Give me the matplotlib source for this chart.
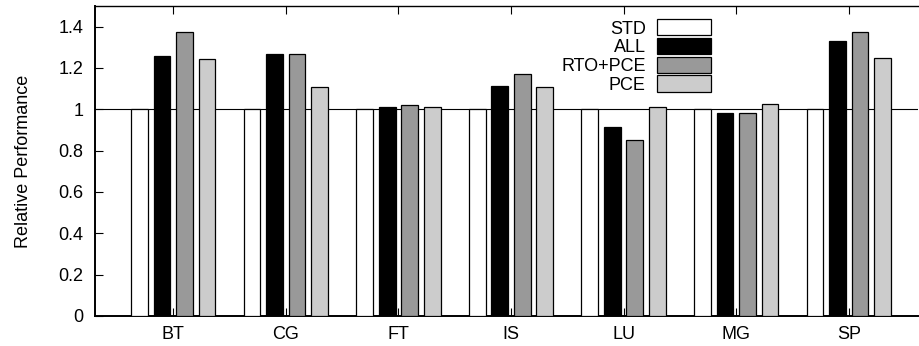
import matplotlib
matplotlib.use("Agg")
import matplotlib.pyplot as plt
from matplotlib.patches import Rectangle
from matplotlib.transforms import Affine2D
import numpy as np

plt.rcParams['font.family'] = ['Liberation Sans', 'DejaVu Sans']

categories = ["BT", "CG", "FT", "IS", "LU", "MG", "SP"]
series_names = ["STD", "ALL", "RTO+PCE", "PCE"]
std_vals = [1.0, 1.0, 1.0, 1.0, 1.0, 1.0, 1.0]
all_vals = [1.260, 1.268, 1.013, 1.113, 0.915, 0.981, 1.331]
rto_pce_vals = [1.372, 1.270, 1.019, 1.170, 0.853, 0.984, 1.375]
pce_vals = [1.242, 1.108, 1.013, 1.108, 1.013, 1.026, 1.249]
yticks = [0, 0.2, 0.4, 0.6, 0.8, 1, 1.2, 1.4]
ytick_labels = ["0", "0.2", "0.4", "0.6", "0.8", "1", "1.2", "1.4"]

colors = ["#ffffff", "#000000", "#999999", "#cccccc"]
series = [std_vals, all_vals, rto_pce_vals, pce_vals]

W, H = 919, 346
FS = 13
fig = plt.figure(figsize=(W / 100, H / 100), dpi=100)
ax = fig.add_axes([94.5 / W, (H - 316) / H, (918.5 - 94.5) / W, (316 - 6) / H])

x = np.arange(len(categories))
offsets = [-0.3, -0.1, 0.1, 0.3]
bw = 0.148
for vals, off, c, name in zip(series, offsets, colors, series_names):
    ax.bar(x + off, vals, width=bw, color=c, edgecolor="black", linewidth=0.9, zorder=3, label=name)

ax.axhline(1.0, color="black", linewidth=0.8, zorder=1)

ax.set_xlim(-0.7, 6.62)
ax.set_ylim(0, 1.5)
ax.set_xticks(x)
ax.set_xticklabels(categories, fontsize=FS)
ax.set_yticks(yticks)
ax.set_yticklabels(ytick_labels, fontsize=FS)
ax.tick_params(axis="both", direction="in", length=6, width=0.8, top=True, right=False)
ax.tick_params(axis="y", pad=8)
ax.tick_params(axis="x", pad=7.5)
ax.set_ylabel("Relative Performance", fontsize=FS, labelpad=19)

for s in ["left", "bottom"]:
    ax.spines[s].set_linewidth(1.4)
ax.spines["top"].set_linewidth(1.0)
ax.spines["right"].set_visible(False)

# legend drawn in figure pixel coordinates (origin top-left)
pix = Affine2D().scale(1.0 / W, -1.0 / H).translate(0, 1) + fig.transFigure
box_x0, box_x1 = 657, 711
row0, pitch, box_h = 27.2, 18.8, 16.2
em = FS / 72 * 100
for i, (name, c) in enumerate(zip(series_names, colors)):
    cy = row0 + i * pitch
    fig.patches.append(Rectangle((box_x0, cy + box_h / 2), box_x1 - box_x0, -box_h,
                                 transform=pix, facecolor=c, edgecolor="black", linewidth=0.9))
    fig.text(645.7, cy + 0.716 * em / 2, name, transform=pix, ha="right", va="baseline", fontsize=FS)

fig.savefig("out.png", dpi=100)
